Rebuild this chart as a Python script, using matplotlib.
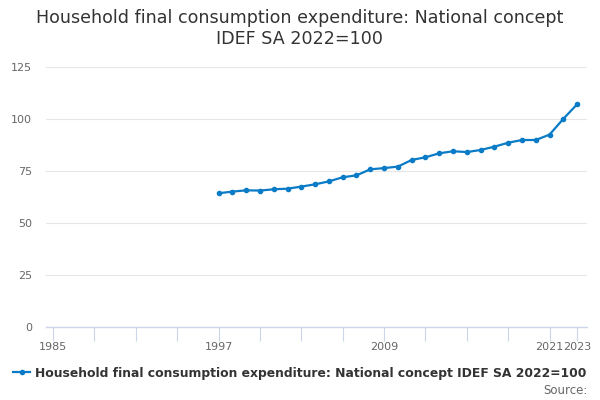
import matplotlib.pyplot as plt

years = list(range(1997, 2024))
values = [64.3, 65.1, 65.7, 65.6, 66.2, 66.5, 67.5, 68.6, 70.0, 72.0, 72.9, 75.8,
          76.4, 77.1, 80.3, 81.6, 83.5, 84.5, 84.1, 85.1, 86.7, 88.6, 89.9, 89.9,
          92.5, 100.1, 107.1]
tick_years = list(range(1985, 2022, 3)) + [2023]
label_years = [1985, 1997, 2009, 2021, 2023]
y_ticks = [0, 25, 50, 75, 100, 125]

series_name = "Household final consumption expenditure: National concept IDEF SA 2022=100"
line_color = "#0a7bc6"

fig = plt.figure(figsize=(6, 4), dpi=100)
ax = fig.add_axes([0.077, 0.1825, 0.901, 0.65])

ax.plot(years, values, color=line_color, linewidth=1.6, marker='o', markersize=3,
        label=series_name)

ax.set_xlim(1984.5, 2023.7)
ax.set_ylim(0, 125)
ax.set_yticks(y_ticks)
ax.yaxis.grid(True, color='#e6e6e6', linewidth=0.8)
ax.set_axisbelow(True)

ax.set_xticks(tick_years)
ax.set_xticklabels([str(y) if y in label_years else '' for y in tick_years])

for side in ['top', 'right', 'left']:
    ax.spines[side].set_visible(False)
ax.spines['bottom'].set_color('#ccd6eb')
ax.spines['bottom'].set_linewidth(1)

ax.tick_params(axis='y', length=0, labelsize=8, labelcolor='#666666', pad=10)
ax.tick_params(axis='x', length=10, color='#ccd6eb', labelsize=8, labelcolor='#666666', pad=1)

fig.suptitle("Household final consumption expenditure: National concept\nIDEF SA 2022=100",
             y=0.978, fontsize=12.6, color='#333333', linespacing=1.25)

fig.legend(loc='center', bbox_to_anchor=(0.5, 0.0675), frameon=False,
           handlelength=1.4, handletextpad=0.4, labelcolor='#333333',
           prop={'weight': 'bold', 'size': 8.9})

fig.text(0.98, 0.025, "Source:", ha='right', va='center', fontsize=8.5, color='#666666')

fig.savefig('out.png', dpi=100)
